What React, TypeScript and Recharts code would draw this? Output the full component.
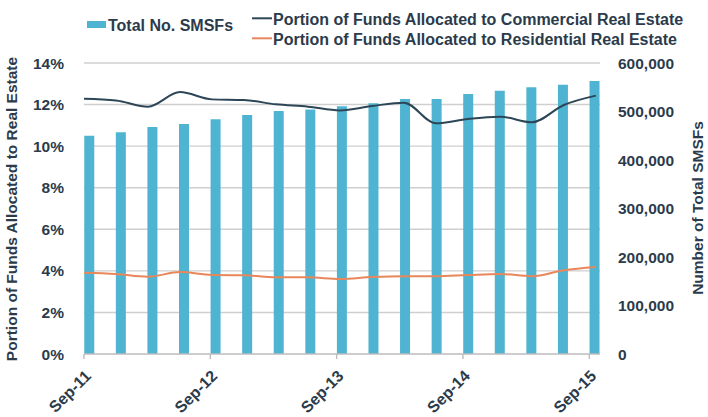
import React from "react";
import { Bar, CartesianGrid, ComposedChart, Line, XAxis, YAxis } from "recharts";

// quarterly, Sep-11 .. Sep-15
const quarters = [
  "Sep-11", "Dec-11", "Mar-12", "Jun-12", "Sep-12", "Dec-12", "Mar-13", "Jun-13", "Sep-13",
  "Dec-13", "Mar-14", "Jun-14", "Sep-14", "Dec-14", "Mar-15", "Jun-15", "Sep-15",
];
const totalSmsfs = [
  450000, 457000, 468000, 474000, 484000, 493000, 501000, 504000, 511000,
  517000, 526000, 526000, 536000, 543000, 550000, 555000, 563000,
];
const commercialPct = [
  12.28, 12.2, 11.9, 12.6, 12.25, 12.22, 12.01, 11.9, 11.72,
  11.93, 12.09, 11.1, 11.31, 11.42, 11.15, 11.98, 12.43,
];
const residentialPct = [
  3.91, 3.85, 3.72, 3.94, 3.8, 3.79, 3.69, 3.69, 3.61,
  3.7, 3.74, 3.74, 3.8, 3.85, 3.74, 4.03, 4.19,
];
const pctTicks = [0, 2, 4, 6, 8, 10, 12, 14];
const countTicks = [0, 100000, 200000, 300000, 400000, 500000, 600000];
const labelQuarters = ["Sep-11", "Sep-12", "Sep-13", "Sep-14", "Sep-15"];

const TEXT = "#2b3b4b";
const FONT = "'Liberation Sans', Arial, Helvetica, sans-serif";
const BAR_COLOR = "#4fb4d1";
const COMM_COLOR = "#2d4657";
const RES_COLOR = "#e8875c";

// ticks sit at the left edge of the bar for each September
const TICK_SHIFT = 0.16;

const data = quarters.map((q, i) => ({
  idx: i,
  quarter: q,
  total: totalSmsfs[i],
  commercial: commercialPct[i],
  residential: residentialPct[i],
}));

const xTicks = labelQuarters.map((q) => quarters.indexOf(q) - TICK_SHIFT);

function DateTick(props: any) {
  const { x, y, payload } = props;
  const i = Math.round(payload.value + TICK_SHIFT);
  return (
    <text
      x={x + 8}
      y={y + 16}
      textAnchor="end"
      transform={`rotate(-45 ${x + 8} ${y + 16})`}
      fill={TEXT}
      fontSize={16}
      fontWeight="bold"
      fontFamily={FONT}
    >
      {quarters[i]}
    </text>
  );
}

const tickStyle = { fill: TEXT, fontSize: 15.5, fontWeight: "bold", fontFamily: FONT };

export default function App() {
  return (
    <div style={{ position: "absolute", left: 0, top: 0, width: 708, height: 417, background: "#fff" }}>
      <ComposedChart width={708} height={417} data={data} margin={{ top: 63, right: 0, bottom: 0, left: 0 }}>
        <CartesianGrid
          xAxisId="bar"
          yAxisId="pct"
          vertical={false}
          stroke="#cfcfcf"
          strokeWidth={1.4}
          horizontalValues={pctTicks.slice(1)}
        />
        <XAxis
          xAxisId="bar"
          dataKey="idx"
          type="number"
          domain={[-TICK_SHIFT, 16.18]}
          allowDataOverflow
          ticks={xTicks}
          interval={0}
          height={63}
          stroke="#bdbdbd"
          strokeWidth={1.4}
          tickSize={5}
          tick={<DateTick />}
        />
        <XAxis xAxisId="line" dataKey="idx" type="number" domain={[0, 16.13]} allowDataOverflow hide />
        <YAxis
          yAxisId="pct"
          orientation="left"
          width={84}
          domain={[0, 14]}
          ticks={pctTicks}
          interval={0}
          axisLine={false}
          tickLine={false}
          tickMargin={14}
          tick={tickStyle}
          tickFormatter={(v) => `${v}%`}
          label={{
            content: () => (
              <text
                x={17}
                y={209}
                textAnchor="middle"
                transform="rotate(-90 17 209)"
                fill={TEXT}
                fontSize={15.5}
                fontWeight="bold"
                fontFamily={FONT}
              >
                Portion of Funds Allocated to Real Estate
              </text>
            ),
          }}
        />
        <YAxis
          yAxisId="count"
          orientation="right"
          width={108}
          domain={[0, 600000]}
          ticks={countTicks}
          interval={0}
          axisLine={false}
          tickLine={false}
          tickMargin={12}
          tick={tickStyle}
          tickFormatter={(v) => v.toLocaleString("en-US")}
          label={{
            content: () => (
              <text
                x={703}
                y={208}
                textAnchor="middle"
                transform="rotate(-90 703 208)"
                fill={TEXT}
                fontSize={15.5}
                fontWeight="bold"
                fontFamily={FONT}
              >
                Number of Total SMSFs
              </text>
            ),
          }}
        />
        <Bar
          xAxisId="bar"
          yAxisId="count"
          dataKey="total"
          fill={BAR_COLOR}
          barSize={10}
          isAnimationActive={false}
        />
        <Line
          xAxisId="line"
          yAxisId="pct"
          dataKey="commercial"
          type="monotone"
          stroke={COMM_COLOR}
          strokeWidth={2}
          dot={false}
          activeDot={false}
          isAnimationActive={false}
        />
        <Line
          xAxisId="line"
          yAxisId="pct"
          dataKey="residential"
          type="monotone"
          stroke={RES_COLOR}
          strokeWidth={2}
          dot={false}
          activeDot={false}
          isAnimationActive={false}
        />
      </ComposedChart>

      {/* legend */}
      <svg width={708} height={50} style={{ position: "absolute", left: 0, top: 0 }}>
        <rect x={87} y={21} width={19} height={7} fill={BAR_COLOR} />
        <text x={108} y={30.5} fill={TEXT} fontSize={16} fontWeight="bold" fontFamily={FONT}>
          Total No. SMSFs
        </text>
        <line x1={252} x2={272} y1={18.3} y2={18.3} stroke={COMM_COLOR} strokeWidth={2} />
        <text x={273} y={25} fill={TEXT} fontSize={16} fontWeight="bold" fontFamily={FONT}>
          Portion of Funds Allocated to Commercial Real Estate
        </text>
        <line x1={252} x2={272} y1={38.3} y2={38.3} stroke={RES_COLOR} strokeWidth={2} />
        <text x={273} y={44.5} fill={TEXT} fontSize={16} fontWeight="bold" fontFamily={FONT}>
          Portion of Funds Allocated to Residential Real Estate
        </text>
      </svg>
    </div>
  );
}
